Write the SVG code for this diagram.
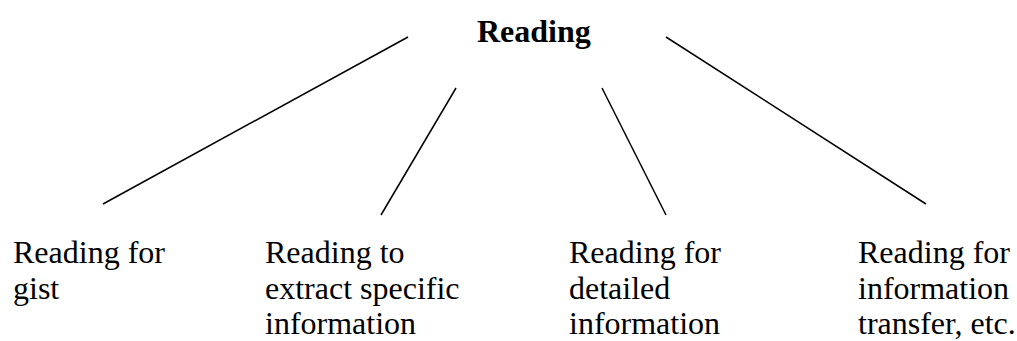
<svg xmlns="http://www.w3.org/2000/svg" width="1017" height="341" viewBox="0 0 1017 341">
<style>
text{font-family:"Liberation Serif","Times New Roman",serif;font-size:32px;fill:#000}
.title{font-weight:bold}
.conn line{stroke:#000;stroke-width:1.5}
</style>
<rect width="1017" height="341" fill="#fff"/>
<g id="root"><text class="title" x="477" y="42">Reading</text></g>
<g id="connectors" class="conn">
<line x1="408" y1="37" x2="103" y2="204"/>
<line x1="456" y1="88" x2="381" y2="215"/>
<line x1="602" y1="88" x2="666" y2="215"/>
<line x1="666" y1="37" x2="926" y2="204"/>
</g>
<g id="gist"><text x="13" y="263">Reading for</text><text x="13" y="298.5">gist</text></g>
<g id="specific"><text x="265" y="263">Reading to</text><text x="265" y="298.5">extract specific</text><text x="265" y="334">information</text></g>
<g id="detailed"><text x="569" y="263">Reading for</text><text x="569" y="298.5">detailed</text><text x="569" y="334">information</text></g>
<g id="transfer"><text x="858" y="263">Reading for</text><text x="858" y="298.5">information</text><text x="858" y="334">transfer, etc.</text></g>
</svg>
